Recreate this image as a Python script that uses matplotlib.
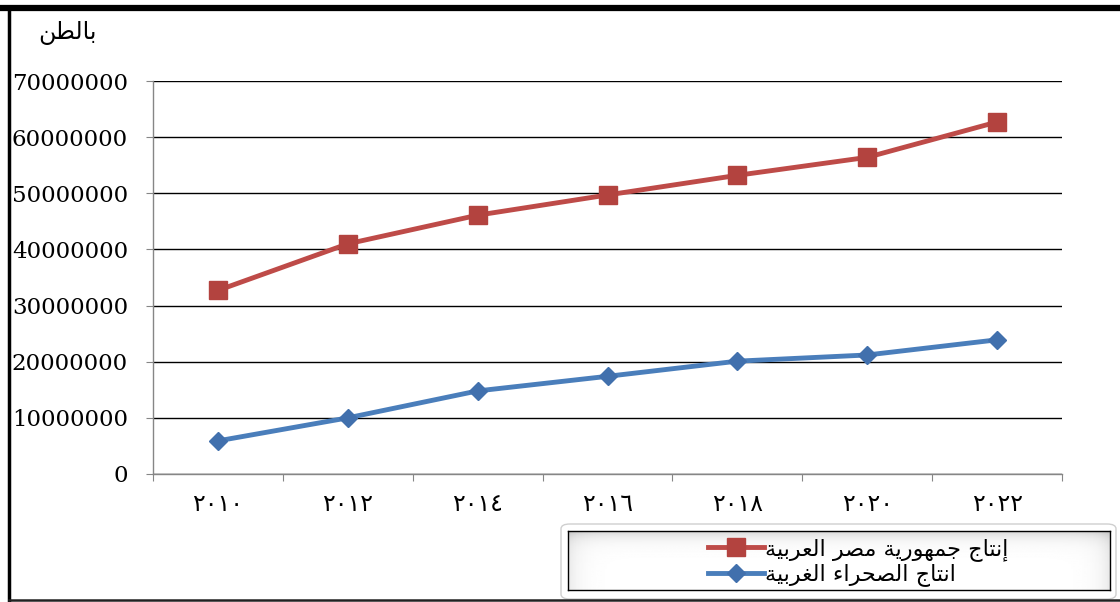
import numpy as np
import matplotlib
matplotlib.use("Agg")
import matplotlib.pyplot as plt
from matplotlib.lines import Line2D
from matplotlib.patches import Rectangle, FancyBboxPatch

# data (tons)
years = ["٢٠١٠", "٢٠١٢", "٢٠١٤", "٢٠١٦", "٢٠١٨", "٢٠٢٠", "٢٠٢٢"]
egypt = [32.7e6, 41.0e6, 46.1e6, 49.7e6, 53.2e6, 56.4e6, 62.7e6]
desert = [5.9e6, 10.0e6, 14.8e6, 17.4e6, 20.1e6, 21.2e6, 23.9e6]
yticks = list(range(0, 70000001, 10000000))

unit_label = "بالطن"
egypt_label = "إنتاج جمهورية مصر العربية"
desert_label = "انتاج الصحراء الغربية"

# matplotlib has no arabic shaping: map letters to presentation forms and reverse
FORMS = {
    'ء': ('\uFE80',), 'ا': ('\uFE8D', '\uFE8E'), 'إ': ('\uFE87', '\uFE88'),
    'ب': ('\uFE8F', '\uFE90', '\uFE91', '\uFE92'), 'ة': ('\uFE93', '\uFE94'),
    'ت': ('\uFE95', '\uFE96', '\uFE97', '\uFE98'), 'ج': ('\uFE9D', '\uFE9E', '\uFE9F', '\uFEA0'),
    'ح': ('\uFEA1', '\uFEA2', '\uFEA3', '\uFEA4'), 'ر': ('\uFEAD', '\uFEAE'),
    'ص': ('\uFEB9', '\uFEBA', '\uFEBB', '\uFEBC'), 'ط': ('\uFEC1', '\uFEC2', '\uFEC3', '\uFEC4'),
    'ع': ('\uFEC9', '\uFECA', '\uFECB', '\uFECC'), 'غ': ('\uFECD', '\uFECE', '\uFECF', '\uFED0'),
    'ل': ('\uFEDD', '\uFEDE', '\uFEDF', '\uFEE0'), 'م': ('\uFEE1', '\uFEE2', '\uFEE3', '\uFEE4'),
    'ن': ('\uFEE5', '\uFEE6', '\uFEE7', '\uFEE8'), 'ه': ('\uFEE9', '\uFEEA', '\uFEEB', '\uFEEC'),
    'و': ('\uFEED', '\uFEEE'), 'ي': ('\uFEF1', '\uFEF2', '\uFEF3', '\uFEF4'),
}


def shape(text):
    out = []
    for i, c in enumerate(text):
        if c not in FORMS:
            out.append(c)
            continue
        f = FORMS[c]
        prev = text[i - 1] if i > 0 else ' '
        nxt = text[i + 1] if i + 1 < len(text) else ' '
        join_prev = prev in FORMS and len(FORMS[prev]) == 4 and len(f) >= 2
        join_next = len(f) == 4 and nxt in FORMS and len(FORMS[nxt]) >= 2
        if join_prev and join_next:
            out.append(f[3])
        elif join_prev:
            out.append(f[1])
        elif join_next:
            out.append(f[2])
        else:
            out.append(f[0])
    return ''.join(out)[::-1]


red, red_mk = '#BE4B48', '#B3433F'
blue, blue_mk = '#4A7EBB', '#4170AD'
gray = '#868686'
W, H = 1120, 602

fig = plt.figure(figsize=(11.2, 6.02), dpi=100)
ax = fig.add_axes([153 / W, 1 - 474 / H, 909 / W, 393 / H])

x = np.arange(len(years))
ax.plot(x, egypt, color=red, lw=3.5, marker='s', markersize=13.5,
        markerfacecolor=red_mk, markeredgecolor=red_mk, label=shape(egypt_label))
ax.plot(x, desert, color=blue, lw=3.5, marker='D', markersize=9.5,
        markerfacecolor=blue_mk, markeredgecolor=blue_mk, label=shape(desert_label))

ax.set_xlim(-0.5, len(years) - 0.5)
ax.set_ylim(0, 70000000)
ax.set_yticks(yticks)
ax.set_yticklabels([str(v) for v in yticks], family='DejaVu Serif', fontsize=16.5)
ax.tick_params(axis='y', length=5, color=gray, pad=13)
ax.yaxis.grid(True, color='black', lw=1.0)
ax.set_axisbelow(True)

ax.set_xticks(np.arange(-0.5, len(years), 1.0))
ax.set_xticklabels([])
ax.tick_params(axis='x', which='major', length=5, color=gray)
ax.set_xticks(x, minor=True)
ax.set_xticklabels(years, minor=True, family='DejaVu Sans', fontsize=17)
ax.tick_params(axis='x', which='minor', length=0, pad=13)

for s in ['top', 'right']:
    ax.spines[s].set_visible(False)
for s in ['left', 'bottom']:
    ax.spines[s].set_color(gray)
    ax.spines[s].set_linewidth(1.0)

fig.text(67 / W, 1 - 33 / H, shape(unit_label), ha='center', va='center',
         fontsize=17, family='DejaVu Sans')

# legend box: outer rounded frame, inner shaded frame, clipped entries
outer = FancyBboxPatch((561 / W, 1 - 599 / H), 555 / W, 75 / H, boxstyle='round,pad=0,rounding_size=0.008',
                       transform=fig.transFigure, facecolor='white', edgecolor='#cfcfcf', lw=1.0, zorder=1)
fig.add_artist(outer)

bg = fig.add_axes([568 / W, 1 - 590 / H, 542 / W, 59 / H])
bg.set_zorder(2)
yy = np.linspace(0, 1, 60)[:, None]
xx = np.linspace(0, 1, 200)[None, :]
shade = 1 - 0.16 * np.exp(-yy / 0.12) - 0.08 * np.exp(-xx / 0.02) - 0.08 * np.exp(-(1 - xx) / 0.02)
bg.imshow(shade, cmap='gray', vmin=0, vmax=1, aspect='auto', extent=[0, 1, 0, 1], origin='upper')
bg.set_xticks([])
bg.set_yticks([])
for s in bg.spines.values():
    s.set_color('black')
    s.set_linewidth(1.0)

leg = fig.legend(loc='center', bbox_to_anchor=(858 / W, 1 - 562 / H), frameon=False,
                 prop={'family': 'DejaVu Sans', 'size': 16}, handlelength=2.5,
                 handletextpad=0.05, labelspacing=0.12, borderpad=0)
leg.set_zorder(5)
clip = Rectangle((568 / W, 1 - 588 / H), 542 / W, 56 / H, transform=fig.transFigure)
for a in leg.findobj():
    if isinstance(a, (Line2D, matplotlib.text.Text)):
        a.set_clip_path(clip)
        a.set_clip_on(True)

# outer figure frame (top, left, bottom)
fig.add_artist(Line2D([0, 1], [1 - 8 / H, 1 - 8 / H], color='black', lw=4.5, transform=fig.transFigure, zorder=6))
fig.add_artist(Line2D([8.5 / W, 8.5 / W], [1 - 600 / H, 1 - 8 / H], color='black', lw=2.5, transform=fig.transFigure, zorder=6))
fig.add_artist(Line2D([8.5 / W, 1], [1 - 600 / H, 1 - 600 / H], color='#222222', lw=1.8, transform=fig.transFigure, zorder=6))

fig.savefig('out.png', dpi=100)
